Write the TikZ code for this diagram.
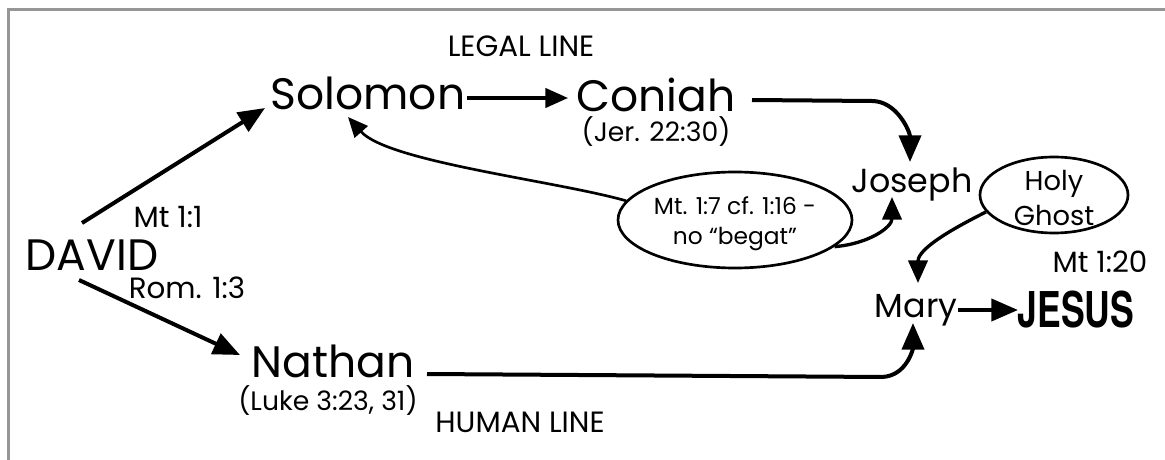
\documentclass[tikz,border=0pt]{standalone}
\usepackage{fontspec}
\setmainfont{Poppins}
\newfontfamily\jesusfont{TeX Gyre Heros}[FakeStretch=0.72]
\usetikzlibrary{arrows.meta,shapes.geometric}
\newcommand\myfs[2]{\fontsize{#1pt}{#2pt}\selectfont}
\definecolor{framecol}{RGB}{150,150,150}
\begin{document}
\begin{tikzpicture}[x=0.75pt,y=-0.75pt,
  txt/.style={inner sep=0pt, anchor=base},
  big/.style={txt, font=\myfs{33}{40}},
  mid/.style={txt, font=\myfs{25}{30}},
  refl/.style={txt, font=\myfs{20}{24}},
  refs/.style={txt, font=\myfs{22}{26}},
  lineh/.style={txt, font=\myfs{22}{26}},
  bigarrow/.style={line width=3pt, -{Triangle[length=20pt,width=16.5pt]}},
  midarrow/.style={line width=2.5pt, -{Triangle[length=17pt,width=14.5pt]}},
  thinarrow/.style={line width=2pt, -{Triangle[length=15pt,width=13pt]}},
  oval/.style={ellipse, draw, line width=2pt, inner sep=0pt}
]
\useasboundingbox (0,0) rectangle (1165,460);
\draw[framecol, line width=2.25pt] (8.5,460) |- (1165,9.5);

% text nodes
\node[big] (david) at (92,270) {DAVID};
\node[big] (solomon) at (368,110) {Solomon};
\node[big] (coniah) at (656,112) {Coniah};
\node[big] (nathan) at (333,377) {Nathan};
\node[refl] (jer) at (656,142) {(Jer. 22:30)};
\node[refl] (luke) at (328,410) {(Luke 3:23, 31)};
\node[refs] (mt11) at (168,227) {Mt 1:1};
\node[refs] (rom) at (187,298) {Rom. 1:3};
\node[refs] (mt120) at (1100,272) {Mt 1:20};
\node[lineh] (legal) at (521,57) {LEGAL LINE};
\node[lineh] (human) at (520,432) {HUMAN LINE};
\node[mid] (joseph) at (912,192) {Joseph};
\node[mid] (mary) at (916,317) {Mary};
\node[txt, font={\jesusfont\bfseries\myfs{37}{40}}] (jesus) at (1076,327) {JESUS};

% ovals
\node[oval, minimum width=175.5pt, minimum height=72pt] (note) at (735,220) {};
\node[inner sep=0pt, align=center, font=\myfs{17.5}{22.5}] (notetext) at (735,224) {Mt. 1:7 cf. 1:16 -\\no “begat”};
\node[oval, minimum width=111pt, minimum height=57pt] (holy) at (1054,195) {};
\node[inner sep=0pt, align=center, font=\myfs{20.5}{26}] (holytext) at (1054,198) {Holy\\Ghost};

% connectors
\draw[bigarrow] ([shift={(-10,-47)}]david.base) -- ([shift={(-103,-2)}]solomon.base);
\draw[bigarrow] ([shift={(-13,10)}]david.base) -- ([shift={(-93,-22)}]nathan.base);
\draw[midarrow] ([shift={(99,-12)}]solomon.base) -- ([shift={(-88,-14)}]coniah.base);
\draw[bigarrow] ([shift={(96,-12)}]coniah.base) -- ++(120,1)
   .. controls +(25,0) and +(0,-30) .. ([shift={(-2,-30)}]joseph.base);
\draw[thinarrow] (note.170) .. controls +(-70,-20) and +(40,45) .. ([shift={(-20,7)}]solomon.base);
\draw[midarrow] (note.-15) .. controls +(35,-3) and +(0,30) .. ([shift={(-20,5)}]joseph.base);
\draw[midarrow] (holy.194) .. controls +(-30,15) and +(0,-35) .. ([shift={(2,-34)}]mary.base);
\draw[bigarrow] ([shift={(42,-7)}]mary.base) -- ([shift={(-58,-17)}]jesus.base);
\draw[bigarrow] ([shift={(94,-3)}]nathan.base) -- ++(455,3)
   .. controls +(25,-1) and +(0,25) .. ([shift={(-3,6)}]mary.base);
\end{tikzpicture}
\end{document}
